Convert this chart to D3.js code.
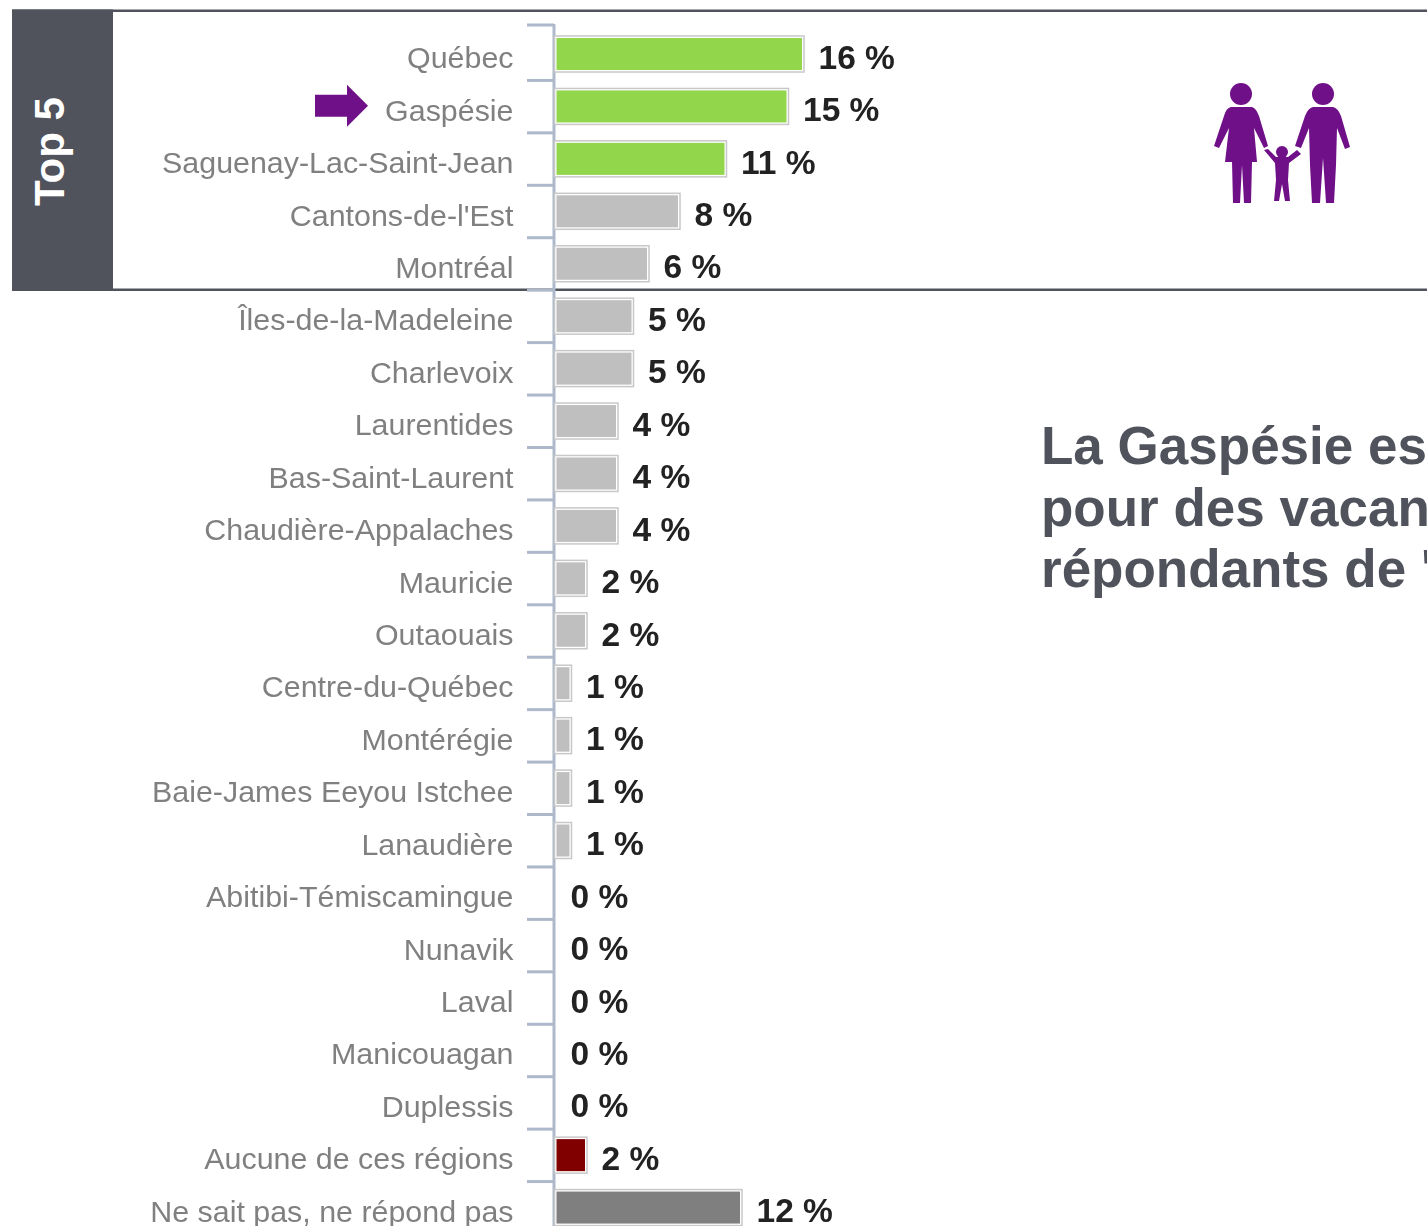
<!DOCTYPE html>
<html>
<head>
<meta charset="utf-8">
<script src="https://cdn.jsdelivr.net/npm/d3@7"></script>
<style>
html, body { margin: 0; padding: 0; background: #fff; overflow: hidden; }
svg { display: block; font-family: "Liberation Sans", Arial, sans-serif; }
.name, .bar-label, .bar, .bar-frame, .icon { filter: blur(0.5px); }
</style>
</head>
<body>
<div id="chart1"></div>
<script>
var regions = ["Québec", "Gaspésie", "Saguenay-Lac-Saint-Jean", "Cantons-de-l'Est", "Montréal",
    "Îles-de-la-Madeleine", "Charlevoix", "Laurentides", "Bas-Saint-Laurent", "Chaudière-Appalaches",
    "Mauricie", "Outaouais", "Centre-du-Québec", "Montérégie", "Baie-James Eeyou Istchee", "Lanaudière",
    "Abitibi-Témiscamingue", "Nunavik", "Laval", "Manicouagan", "Duplessis",
    "Aucune de ces régions", "Ne sait pas, ne répond pas"];
var percents = [16, 15, 11, 8, 6, 5, 5, 4, 4, 4, 2, 2, 1, 1, 1, 1, 0, 0, 0, 0, 0, 2, 12];
var barGroups = ["top", "top", "top", "rest", "rest", "rest", "rest", "rest", "rest", "rest", "rest", "rest",
    "rest", "rest", "rest", "rest", "rest", "rest", "rest", "rest", "rest", "none", "dk"];
var groupNames = ["top", "rest", "none", "dk"];
var groupColors = ["#92d64b", "#bfbfbf", "#800000", "#7f7f7f"];
var messageLines = ["La Gaspésie es", "pour des vacan", "répondants de '"];

var width = 1427, height = 1226;

var svg = d3.select("#chart1").append("svg")
    .attr("width", width)
    .attr("height", height);

var x = d3.scaleLinear().domain([0, 16]).range([555, 803]);
var y = d3.scaleBand().domain(regions).range([25, 1231]);
var color = d3.scaleOrdinal().domain(groupNames).range(groupColors);

// top 5 frame
svg.append("rect").attr("x", 12).attr("y", 9.5).attr("width", 101).attr("height", 281.5).attr("fill", "#50535c");
svg.append("rect").attr("x", 12).attr("y", 9.5).attr("width", 1420).attr("height", 2.5).attr("fill", "#50535c");
svg.append("rect").attr("x", 12).attr("y", 288.5).attr("width", 1420).attr("height", 2.5).attr("fill", "#50535c");
svg.append("text")
    .attr("transform", "translate(64,206) rotate(-90)")
    .attr("fill", "#fff")
    .attr("font-weight", "bold")
    .attr("font-size", 42)
    .text("Top 5");

// axis with ticks between the rows, only the first one sits on the band edge
var axis = svg.append("g").attr("stroke", "#adb9ca").attr("stroke-width", 3).attr("fill", "none");
axis.append("line").attr("x1", 554).attr("x2", 554).attr("y1", y.range()[0] - 1).attr("y2", height);
axis.selectAll(".tick")
    .data(regions)
    .enter().append("line")
    .attr("class", "tick")
    .attr("x1", 527).attr("x2", 554)
    .attr("y1", function (d, i) { return i == 0 ? y(d) : y(d) + 3; })
    .attr("y2", function (d, i) { return i == 0 ? y(d) : y(d) + 3; });

var rows = regions.map(function (d, i) {
    return { name: d, value: percents[i], group: barGroups[i] };
});
var drawn = rows.filter(function (d) { return d.value > 0; });

// light outline with a white gap around each bar
svg.selectAll(".bar-frame")
    .data(drawn)
    .enter().append("rect")
    .attr("class", "bar-frame")
    .attr("x", x(0) - 0.5)
    .attr("y", function (d) { return y(d.name) + 11; })
    .attr("width", function (d) { return x(d.value) - x(0) + 1.5; })
    .attr("height", 36)
    .attr("fill", "#fff")
    .attr("stroke", "#c8c8c8")
    .attr("stroke-width", 1.5);

svg.selectAll(".bar")
    .data(drawn)
    .enter().append("rect")
    .attr("class", "bar")
    .attr("x", x(0) + 1.5)
    .attr("y", function (d) { return y(d.name) + 13; })
    .attr("width", function (d) { return x(d.value) - x(0) - 2.5; })
    .attr("height", 32)
    .attr("fill", function (d) { return color(d.group); });

svg.selectAll(".name")
    .data(rows)
    .enter().append("text")
    .attr("class", "name")
    .attr("x", 513.5)
    .attr("y", function (d) { return y(d.name) + y.bandwidth() / 2 + 17; })
    .attr("text-anchor", "end")
    .attr("font-size", 30.4)
    .attr("fill", "#808080")
    .text(function (d) { return d.name; });

svg.selectAll(".bar-label")
    .data(rows)
    .enter().append("text")
    .attr("class", "bar-label")
    .attr("x", function (d) { return x(d.value) + 15.5; })
    .attr("y", function (d) { return y(d.name) + y.bandwidth() / 2 + 17.5; })
    .attr("font-size", 33.5)
    .attr("font-weight", "bold")
    .attr("fill", "#222")
    .text(function (d) { return d.value + " %"; });

// arrow pointing at Gaspésie
svg.append("path")
    .attr("transform", "translate(315," + (y("Gaspésie") + y.bandwidth() / 2 + 2) + ")")
    .attr("d", "M0,-11H32V-21L53,0L32,21V11H0Z")
    .attr("fill", "#701088");

// family icon
var icon = svg.append("g").attr("class", "icon").attr("fill", "#701088");
icon.append("circle").attr("cx", 1241).attr("cy", 94).attr("r", 11);
icon.append("circle").attr("cx", 1323).attr("cy", 94).attr("r", 11);
icon.append("circle").attr("cx", 1282).attr("cy", 152).attr("r", 6);
icon.append("path").attr("d", "M1231,107H1252Q1256,108 1259,116L1268,146L1264,148L1254,128L1257,162H1252L1251,203H1244L1242,165L1240,203H1233L1232,162H1225L1229,128L1219,148L1214,146L1224,116Q1226,108 1231,107Z");
icon.append("path").attr("d", "M1313,107H1333Q1338,108 1341,116L1350,147L1345,149L1337,128L1336,165L1334,203H1326L1323,158L1320,203H1312L1310,165L1309,128L1301,148L1295,146L1305,116Q1308,108 1313,107Z");
icon.append("path").attr("d", "M1264,150L1268,149L1276,157H1288L1297,150L1301,154L1289,163L1288,180L1290,201H1285L1282,184L1279,201H1274L1276,180L1275,163Z");

// message on the right, runs off the page
svg.selectAll(".message")
    .data(messageLines)
    .enter().append("text")
    .attr("class", "message")
    .attr("x", 1041)
    .attr("y", function (d, i) { return 464 + i * 61.5; })
    .attr("font-size", 53)
    .attr("font-weight", "bold")
    .attr("fill", "#50535c")
    .text(function (d) { return d; });
</script>
</body>
</html>
